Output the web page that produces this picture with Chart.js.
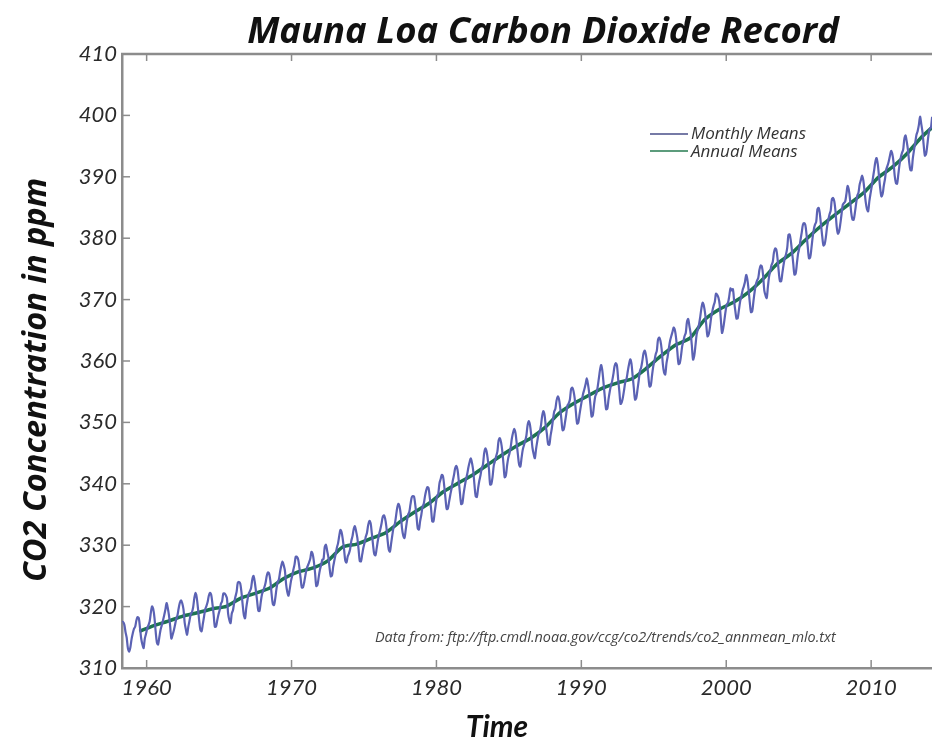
<!DOCTYPE html>
<html>
<head>
<meta charset="utf-8">
<title>Mauna Loa Carbon Dioxide Record</title>
<script src="https://cdn.jsdelivr.net/npm/chart.js@4"></script>
<style>
  html, body { margin: 0; padding: 0; background: #fff; }
  #wrap { position: relative; width: 932px; height: 741px; }
</style>
</head>
<body>
<div id="wrap"><canvas id="chart-co2"></canvas></div>
<script>
// Mauna Loa CO2 record — monthly means + annual means, drawn with Chart.js

// --- Data ---
// monthly means in ppm, March 1958 .. June 2014 (one row per year)
const monthlyStartYear = 1958;
const monthlyStartMonth = 3;
const monthlyPpm = [
  315.71, 317.45, 317.50, 317.10, 315.86, 314.93, 313.20, 312.66, 313.33, 314.67,
  315.62, 316.38, 316.71, 317.72, 318.29, 318.15, 316.54, 314.80, 313.84, 313.26, 314.80, 315.58,
  316.43, 316.97, 317.58, 319.02, 320.03, 319.59, 318.18, 315.91, 314.16, 313.83, 315.00, 316.19,
  316.93, 317.70, 318.54, 319.48, 320.58, 319.77, 318.57, 316.79, 314.80, 315.38, 316.10, 317.01,
  317.94, 318.56, 319.68, 320.63, 321.01, 320.55, 319.58, 317.40, 316.26, 315.42, 316.69, 317.69,
  318.74, 319.08, 319.86, 321.39, 322.25, 321.47, 319.74, 317.77, 316.21, 315.99, 317.12, 318.31,
  319.57, 320.07, 320.73, 321.77, 322.25, 321.89, 320.44, 318.70, 316.70, 316.79, 317.79, 318.71,
  319.44, 320.44, 320.89, 322.13, 322.16, 321.87, 321.39, 318.81, 317.81, 317.30, 318.87, 319.42,
  320.62, 321.59, 322.39, 323.87, 324.01, 323.75, 322.39, 320.37, 318.64, 318.10, 319.79, 321.08,
  322.07, 322.50, 323.04, 324.42, 325.00, 324.09, 322.55, 320.92, 319.31, 319.31, 320.72, 321.96,
  322.57, 323.15, 323.89, 325.02, 325.57, 325.36, 324.14, 322.03, 320.41, 320.25, 321.31, 322.84,
  324.00, 324.42, 325.64, 326.66, 327.34, 326.76, 325.88, 323.67, 322.38, 321.78, 322.85, 324.11,
  324.97, 325.99, 326.87, 328.13, 328.07, 327.66, 326.35, 324.69, 323.10, 323.16, 323.98, 325.13,
  326.17, 326.68, 327.18, 327.78, 328.92, 328.57, 327.34, 325.46, 323.36, 323.57, 324.80, 326.01,
  326.77, 327.63, 327.75, 329.72, 330.07, 329.09, 328.05, 326.32, 324.93, 325.06, 326.50, 327.55,
  328.54, 329.56, 330.30, 331.50, 332.48, 332.07, 330.87, 329.31, 327.51, 327.18, 328.16, 328.64,
  329.35, 330.71, 331.48, 332.65, 333.09, 332.25, 331.18, 329.40, 327.43, 327.37, 328.46, 329.57,
  330.40, 331.40, 332.04, 333.31, 333.96, 333.59, 331.91, 330.06, 328.56, 328.34, 329.49, 330.76,
  331.75, 332.56, 333.50, 334.58, 334.87, 334.34, 333.05, 330.94, 329.30, 328.94, 330.31, 331.68,
  332.93, 333.42, 334.70, 336.07, 336.74, 336.27, 334.93, 332.75, 331.58, 331.16, 332.40, 333.85,
  334.97, 335.39, 336.64, 337.76, 338.01, 337.89, 336.54, 334.68, 332.76, 332.54, 333.92, 334.95,
  336.23, 336.76, 337.96, 338.89, 339.47, 339.29, 337.73, 336.09, 333.91, 333.86, 335.29, 336.73,
  338.01, 338.36, 340.08, 340.77, 341.46, 341.17, 339.56, 337.60, 335.88, 336.01, 337.10, 338.21,
  339.24, 340.48, 341.38, 342.51, 342.91, 342.25, 340.49, 338.43, 336.69, 336.85, 338.36, 339.61,
  340.75, 341.61, 342.70, 343.56, 344.13, 343.35, 342.06, 339.82, 337.97, 337.86, 339.26, 340.49,
  341.38, 342.52, 343.10, 344.94, 345.75, 345.32, 343.99, 342.39, 339.86, 339.99, 341.16, 342.99,
  343.70, 344.51, 345.28, 347.08, 347.43, 346.79, 345.40, 343.28, 341.07, 341.35, 342.98, 344.22,
  344.97, 345.99, 347.42, 348.35, 348.93, 348.25, 346.56, 344.69, 343.09, 342.80, 344.24, 345.56,
  346.29, 346.96, 347.86, 349.55, 350.21, 349.54, 347.94, 345.91, 344.86, 344.17, 345.66, 346.90,
  348.02, 348.47, 349.42, 350.99, 351.84, 351.25, 349.52, 348.10, 346.44, 346.36, 347.81, 348.96,
  350.43, 351.72, 352.22, 353.59, 354.22, 353.79, 352.39, 350.44, 348.72, 348.88, 350.07, 351.34,
  352.76, 353.07, 353.68, 355.42, 355.67, 355.13, 353.90, 351.67, 349.80, 349.99, 351.30, 352.52,
  353.66, 354.70, 355.39, 356.20, 357.16, 356.22, 354.82, 352.91, 350.96, 351.18, 352.83, 354.21,
  354.72, 355.75, 357.16, 358.60, 359.34, 358.24, 356.17, 354.02, 352.15, 352.21, 353.75, 354.99,
  355.99, 356.72, 357.81, 359.15, 359.66, 359.25, 357.02, 355.00, 353.01, 353.31, 354.16, 355.40,
  356.70, 357.17, 358.38, 359.46, 360.28, 359.60, 357.57, 355.52, 353.70, 353.98, 355.33, 356.80,
  358.36, 358.91, 359.97, 361.26, 361.68, 360.95, 359.55, 357.49, 355.84, 356.00, 357.59, 359.05,
  359.98, 361.03, 361.66, 363.48, 363.82, 363.30, 361.94, 359.50, 358.11, 357.80, 359.61, 360.74,
  362.09, 363.29, 364.06, 364.76, 365.45, 365.01, 363.70, 361.54, 359.51, 359.65, 360.80, 362.38,
  363.23, 364.06, 364.61, 366.40, 366.84, 365.68, 364.52, 362.57, 360.24, 360.83, 362.49, 364.34,
  365.16, 365.98, 367.23, 368.66, 369.49, 368.95, 367.74, 365.79, 364.01, 364.35, 365.52, 367.08,
  368.12, 368.98, 369.60, 370.96, 370.77, 370.33, 369.28, 366.86, 364.58, 365.32, 366.69, 368.16,
  369.25, 369.50, 370.56, 371.82, 371.51, 371.71, 369.85, 368.20, 366.91, 366.99, 368.33, 369.67,
  370.52, 371.50, 372.12, 372.87, 374.02, 373.30, 371.62, 369.55, 367.96, 368.09, 369.68, 371.24,
  372.44, 373.08, 373.52, 374.85, 375.55, 375.40, 374.02, 371.49, 370.71, 370.25, 372.08, 373.78,
  374.68, 375.63, 376.11, 377.65, 378.35, 378.13, 376.62, 374.50, 372.99, 373.00, 374.35, 375.70,
  376.79, 377.37, 378.41, 380.52, 380.63, 379.57, 377.79, 375.86, 374.06, 374.24, 375.86, 377.48,
  378.43, 379.70, 380.92, 382.18, 382.45, 382.14, 380.60, 378.64, 376.73, 376.84, 378.29, 380.06,
  381.40, 382.20, 382.66, 384.69, 384.94, 384.01, 382.14, 380.31, 378.81, 379.03, 380.17, 381.85,
  382.94, 383.86, 384.49, 386.37, 386.54, 385.98, 384.35, 381.85, 380.74, 381.15, 382.38, 383.94,
  385.44, 385.73, 385.97, 387.16, 388.50, 387.88, 386.38, 384.15, 383.07, 382.98, 384.11, 385.54,
  386.92, 387.41, 388.77, 389.46, 390.18, 389.43, 387.74, 385.91, 384.77, 384.38, 385.99, 387.27,
  388.45, 389.82, 391.08, 392.46, 393.06, 392.05, 390.13, 388.15, 386.80, 387.18, 388.59, 389.68,
  391.19, 391.77, 392.46, 393.35, 394.21, 393.74, 392.44, 390.20, 389.02, 388.87, 390.38, 391.97,
  393.12, 393.86, 394.40, 396.18, 396.74, 395.71, 394.36, 392.39, 391.11, 391.05, 392.98, 394.34,
  395.55, 396.80, 397.43, 398.41, 399.78, 398.61, 397.32, 395.20, 393.45, 393.70, 395.16, 396.84,
  397.85, 398.01, 399.77, 401.38, 401.78, 401.25,
];

// annual means in ppm, 1959 .. 2014
const annualYears = [
  1959, 1960, 1961, 1962, 1963, 1964, 1965, 1966, 1967, 1968,
  1969, 1970, 1971, 1972, 1973, 1974, 1975, 1976, 1977, 1978,
  1979, 1980, 1981, 1982, 1983, 1984, 1985, 1986, 1987, 1988,
  1989, 1990, 1991, 1992, 1993, 1994, 1995, 1996, 1997, 1998,
  1999, 2000, 2001, 2002, 2003, 2004, 2005, 2006, 2007, 2008,
  2009, 2010, 2011, 2012, 2013, 2014,
];
const annualPpm = [
  315.97, 316.91, 317.64, 318.45, 318.99, 319.62, 320.04, 321.38, 322.16, 323.04,
  324.62, 325.68, 326.32, 327.45, 329.68, 330.18, 331.11, 332.04, 333.83, 335.40,
  336.84, 338.75, 340.11, 341.45, 343.05, 344.65, 346.12, 347.42, 349.19, 351.57,
  353.12, 354.39, 355.61, 356.45, 357.10, 358.83, 360.82, 362.61, 363.73, 366.70,
  368.38, 369.55, 371.14, 373.28, 375.80, 377.52, 379.80, 381.90, 383.79, 385.60,
  387.43, 389.90, 391.65, 393.85, 396.52, 398.65,
];

// axis ticks
const xTickYears = [1960, 1970, 1980, 1990, 2000, 2010];
const yTickPpm = [310, 320, 330, 340, 350, 360, 370, 380, 390, 400, 410];

// --- Styling ---
const FONT = 'Lato, "Open Sans", sans-serif';
const WIDE_FONT = '"Open Sans", Lato, sans-serif';
const AXIS_COLOR = '#8c8c8c';
const TEXT_COLOR = '#2a2a2a';
const MONTHLY_COLOR = '#5b62b4';
const ANNUAL_COLOR = '#1d7352';

// month index -> decimal year (mid-month)
const monthlyPoints = monthlyPpm.map((v, i) => {
  const m = monthlyStartMonth - 1 + i;
  const year = monthlyStartYear + Math.floor(m / 12);
  return { x: year + ((m % 12) + 0.5) / 12, y: v };
});
// annual means sit mid-year
const annualPoints = annualYears.map((yr, i) => ({ x: yr + 0.5, y: annualPpm[i] }));

// --- Frame, inward ticks and free text (title, axis titles, legend, source note) ---
const frameAndText = {
  id: 'frameAndText',
  afterDraw(chart) {
    const { ctx, chartArea: a } = chart;
    const xs = chart.scales.x;
    const ys = chart.scales.y;
    const seg = (x1, y1, x2, y2) => { ctx.beginPath(); ctx.moveTo(x1, y1); ctx.lineTo(x2, y2); ctx.stroke(); };

    ctx.save();
    ctx.strokeStyle = AXIS_COLOR;
    ctx.lineWidth = 2.5;
    seg(a.left - 1, a.top, a.right, a.top);

    ctx.lineWidth = 1.5;
    xTickYears.forEach(v => {
      const px = xs.getPixelForValue(v);
      seg(px, a.bottom, px, a.bottom - 8);
      seg(px, a.top, px, a.top + 7);
    });
    yTickPpm.forEach(v => {
      const py = ys.getPixelForValue(v);
      seg(a.left, py, a.left + 8, py);
    });

    ctx.fillStyle = '#111';
    ctx.textAlign = 'center';
    ctx.textBaseline = 'alphabetic';
    ctx.font = `italic bold 36.5px ${WIDE_FONT}`;
    ctx.fillText('Mauna Loa Carbon Dioxide Record', 543, 43);

    ctx.font = `italic bold 30px ${FONT}`;
    ctx.fillText('Time', 497, 737);

    ctx.save();
    ctx.translate(46, 380);
    ctx.rotate(-Math.PI / 2);
    ctx.font = `italic bold 32.5px ${WIDE_FONT}`;
    ctx.fillText('CO2 Concentration in ppm', 0, 0);
    ctx.restore();

    // legend
    ctx.lineWidth = 2;
    ctx.strokeStyle = '#767aa6';
    seg(650, 134, 688, 134);
    ctx.strokeStyle = '#5c9c7c';
    seg(650, 151, 688, 151);
    ctx.fillStyle = '#333';
    ctx.textAlign = 'left';
    ctx.textBaseline = 'middle';
    ctx.font = `italic 17px ${WIDE_FONT}`;
    ctx.fillText('Monthly Means', 691, 134);
    ctx.fillText('Annual Means', 691, 152);

    // source note
    ctx.fillStyle = '#444';
    ctx.font = `italic 14.4px ${WIDE_FONT}`;
    ctx.fillText('Data from: ftp://ftp.cmdl.noaa.gov/ccg/co2/trends/co2_annmean_mlo.txt', 375, 638);
    ctx.restore();
  },
};

new Chart(document.getElementById('chart-co2'), {
  type: 'line',
  data: {
    datasets: [
      {
        label: 'Monthly Means',
        data: monthlyPoints,
        borderColor: MONTHLY_COLOR,
        borderWidth: 2.2,
        pointRadius: 0,
        tension: 0.3,
        fill: false,
      },
      {
        label: 'Annual Means',
        data: annualPoints,
        borderColor: ANNUAL_COLOR,
        borderWidth: 3.5,
        pointRadius: 0,
        tension: 0.2,
        fill: false,
      },
    ],
  },
  options: {
    responsive: true,
    maintainAspectRatio: false,
    animation: false,
    events: [],
    layout: { padding: { top: 54, left: 0, right: 0, bottom: 0 } },
    plugins: {
      legend: { display: false },
      title: { display: false },
      tooltip: { enabled: false },
    },
    scales: {
      x: {
        type: 'linear',
        min: 1958.3,
        max: 2014.2,
        afterBuildTicks: scale => { scale.ticks = xTickYears.map(v => ({ value: v })); },
        afterFit: scale => { scale.height = 73; },
        ticks: {
          color: TEXT_COLOR,
          font: { family: FONT, size: 22, style: 'italic' },
          padding: 7,
          maxRotation: 0,
          autoSkip: false,
          callback: v => String(v),
        },
        grid: { display: false, drawTicks: false },
        border: { display: true, color: AXIS_COLOR, width: 2.5 },
      },
      y: {
        type: 'linear',
        min: 310,
        max: 410,
        afterBuildTicks: scale => { scale.ticks = yTickPpm.map(v => ({ value: v })); },
        afterFit: scale => { scale.width = 122; },
        ticks: {
          color: TEXT_COLOR,
          font: { family: FONT, size: 22, style: 'italic' },
          padding: 5,
          autoSkip: false,
        },
        grid: { display: false, drawTicks: false },
        border: { display: true, color: AXIS_COLOR, width: 2.5 },
      },
    },
  },
  plugins: [frameAndText],
});
</script>
</body>
</html>
